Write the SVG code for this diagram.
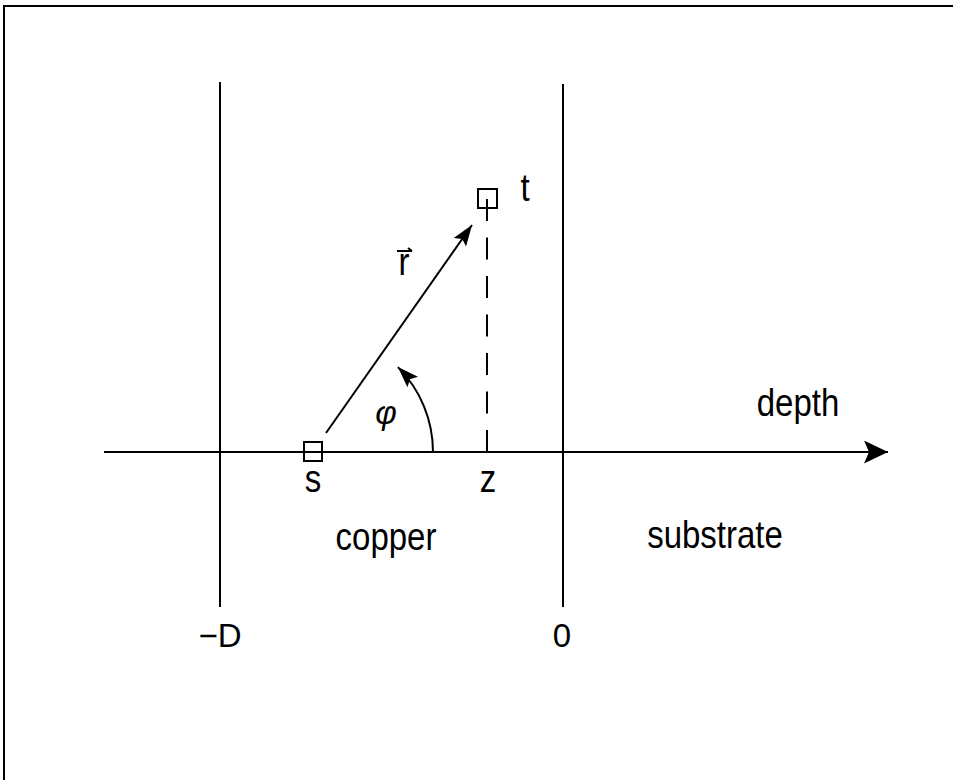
<svg xmlns="http://www.w3.org/2000/svg" width="953" height="780" viewBox="0 0 953 780">
<style>
.ln{stroke:#000;stroke-width:2;fill:none}
.lbl{font-family:"Liberation Sans",Arial,sans-serif;font-size:33px;fill:#000;text-anchor:middle}
</style>
<defs>
<marker id="ah" markerUnits="userSpaceOnUse" markerWidth="22" markerHeight="15" refX="21" refY="7.5" orient="auto">
<path d="M0,0 L21,7.5 L0,15 L4,7.5 z" fill="#000"/>
</marker>
<marker id="ahBig" markerUnits="userSpaceOnUse" markerWidth="25" markerHeight="23" refX="24" refY="11.5" orient="auto">
<path d="M0,0 L24,11.5 L0,23 L5,11.5 z" fill="#000"/>
</marker>
</defs>
<rect width="953" height="780" fill="#fff"/>
<g id="frame">
<path class="ln" stroke-width="2.5" d="M4,780 V6 H953"/>
</g>
<g id="boundaries">
<line class="ln" x1="220" y1="82" x2="220" y2="607"/>
<line class="ln" x1="563" y1="84" x2="563" y2="607"/>
</g>
<g id="connectors">
<line id="axis" class="ln" x1="104" y1="452" x2="888" y2="452" marker-end="url(#ahBig)"/>
<line id="r-vector" class="ln" x1="326" y1="433" x2="472" y2="225" marker-end="url(#ah)"/>
<path id="angle-arc" class="ln" d="M433,452 A120,120 0 0 0 397.9,367.1" marker-end="url(#ah)"/>
<line id="projection" class="ln" x1="487" y1="199" x2="487" y2="452" stroke-dasharray="22 16.5"/>
</g>
<g id="node-s">
<rect class="ln" x="304" y="442" width="18" height="19"/>
<text class="lbl" transform="translate(313,492) scale(1,1.15)">s</text>
</g>
<g id="node-t">
<rect class="ln" x="478" y="189" width="19" height="19"/>
<text class="lbl" transform="translate(525,201) scale(1,1.15)">t</text>
</g>
<g id="labels">
<text class="lbl" transform="translate(404,275) scale(1,1.15)">r</text>
<path class="ln" d="M397,251 H412 M408,248 L412,251" stroke-width="2.5"/>
<text class="lbl" x="386" y="424" font-style="italic" font-size="36px">φ</text>
<text class="lbl" transform="translate(798,416) scale(1,1.15)">depth</text>
<text class="lbl" transform="translate(488,492) scale(1,1.15)">z</text>
<text class="lbl" transform="translate(386,550) scale(1,1.15)">copper</text>
<text class="lbl" transform="translate(715,548) scale(1,1.15)">substrate</text>
<text class="lbl" x="220" y="647">−D</text>
<text class="lbl" x="562" y="647">0</text>
</g>
</svg>
